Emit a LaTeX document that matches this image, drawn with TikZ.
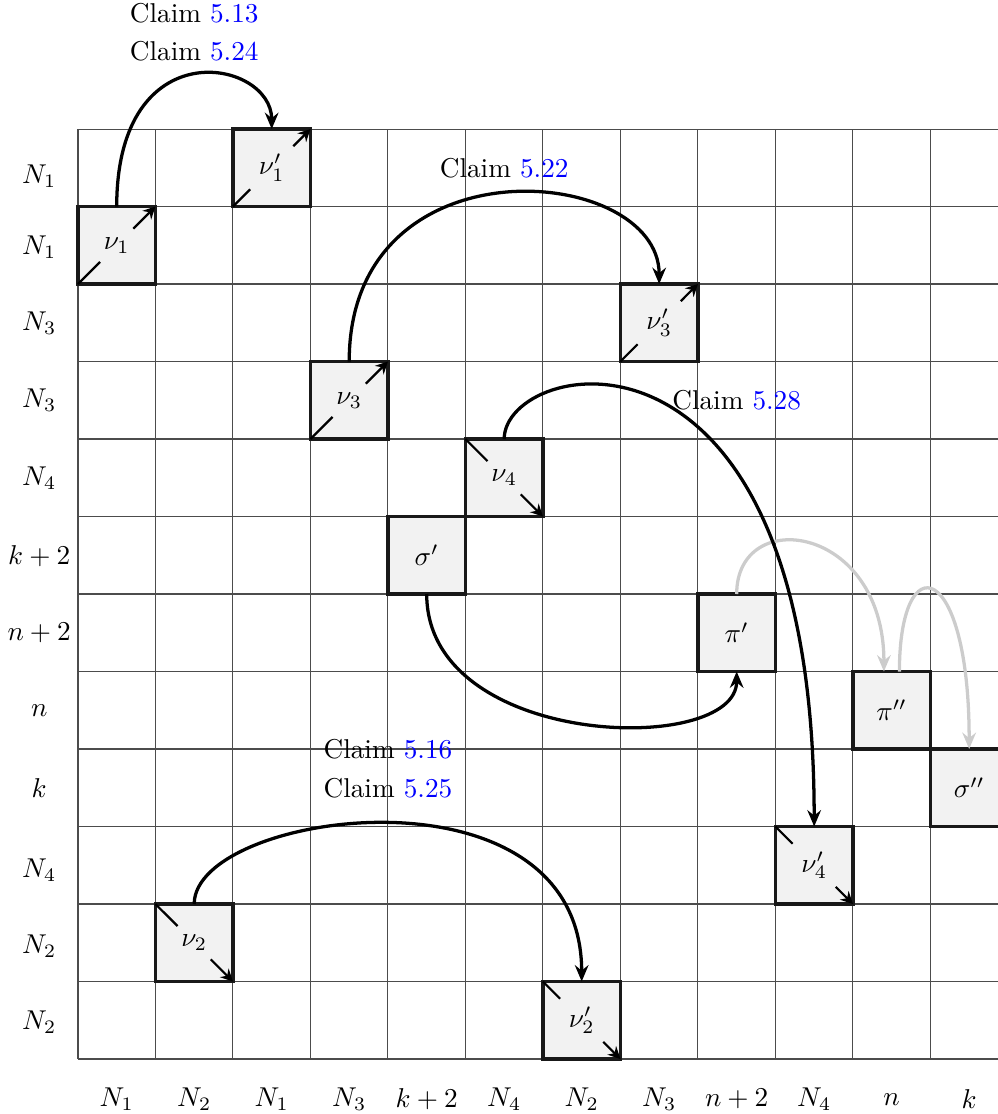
\documentclass[tikz,border=0pt]{standalone}
\usetikzlibrary{arrows.meta}
\tikzset{
  gridline/.style={draw=black!70, line width=0.4pt},
  cellbox/.style={draw=black!90, line width=1.4pt, fill=gray!10, minimum size=1cm, inner sep=0pt, outer sep=0pt},
  celllabel/.style={inner sep=3pt},
  diagline/.style={thick},
  diag/.style={thick, -{Stealth[length=4.5pt,width=4.5pt,inset=1.5pt]}},
  claimarrow/.style={line width=1.2pt, -{Stealth[length=6pt,width=5pt,inset=2pt]}},
  grayarrow/.style={claimarrow, draw=black!20},
  claim/.style={inner sep=1pt},
  axislabel/.style={inner sep=1pt}
}
\begin{document}
\begin{tikzpicture}
\useasboundingbox (-1.006,1.665) rectangle (11.871,-12.710);
\clip (-1.006,1.665) rectangle (11.871,-12.710);
% grid
\draw[gridline] (0,-12) grid (12,0);
% row labels
\node[axislabel] (r1) at (-0.5,-0.61) {$N_1$};
\node[axislabel] (r2) at (-0.5,-1.52) {$N_1$};
\node[axislabel] (r3) at (-0.5,-2.5) {$N_3$};
\node[axislabel] (r4) at (-0.5,-3.5) {$N_3$};
\node[axislabel] (r5) at (-0.5,-4.5) {$N_4$};
\node[axislabel] (r6) at (-0.5,-5.51) {$k+2$};
\node[axislabel] (r7) at (-0.5,-6.5) {$n+2$};
\node[axislabel] (r8) at (-0.5,-7.5) {$n$};
\node[axislabel] (r9) at (-0.5,-8.51) {$k$};
\node[axislabel] (r10) at (-0.5,-9.56) {$N_4$};
\node[axislabel] (r11) at (-0.5,-10.54) {$N_2$};
\node[axislabel] (r12) at (-0.5,-11.53) {$N_2$};
% column labels
\node[axislabel] (c1) at (0.5,-12.52) {$N_1$};
\node[axislabel] (c2) at (1.5,-12.52) {$N_2$};
\node[axislabel] (c3) at (2.5,-12.52) {$N_1$};
\node[axislabel] (c4) at (3.5,-12.52) {$N_3$};
\node[axislabel] (c5) at (4.5,-12.52) {$k+2$};
\node[axislabel] (c6) at (5.5,-12.52) {$N_4$};
\node[axislabel] (c7) at (6.5,-12.52) {$N_2$};
\node[axislabel] (c8) at (7.5,-12.52) {$N_3$};
\node[axislabel] (c9) at (8.5,-12.52) {$n+2$};
\node[axislabel] (c10) at (9.5,-12.52) {$N_4$};
\node[axislabel] (c11) at (10.5,-12.52) {$n$};
\node[axislabel] (c12) at (11.5,-12.52) {$k$};
% cells
\node[cellbox] (nu1) at (0.5,-1.5) {};
\node[cellbox] (nu1p) at (2.5,-0.5) {};
\node[cellbox] (nu3) at (3.5,-3.5) {};
\node[cellbox] (nu3p) at (7.5,-2.5) {};
\node[cellbox] (nu4) at (5.5,-4.5) {};
\node[cellbox] (sigp) at (4.5,-5.5) {$\sigma'$};
\node[cellbox] (pip) at (8.5,-6.5) {$\pi'$};
\node[cellbox] (pipp) at (10.5,-7.5) {$\pi''$};
\node[cellbox] (sigpp) at (11.5,-8.5) {$\sigma''$};
\node[cellbox] (nu4p) at (9.5,-9.5) {};
\node[cellbox] (nu2) at (1.5,-10.5) {};
\node[cellbox] (nu2p) at (6.5,-11.5) {};
% cell labels and diagonals
\node[celllabel] (nu1l) at (nu1.center) {$\nu_1$};
\draw[diagline] (nu1.south west) -- (nu1l);
\draw[diag] (nu1l) -- (nu1.north east);
\node[celllabel] (nu1pl) at (nu1p.center) {$\nu'_1$};
\draw[diagline] (nu1p.south west) -- (nu1pl);
\draw[diag] (nu1pl) -- (nu1p.north east);
\node[celllabel] (nu3l) at (nu3.center) {$\nu_3$};
\draw[diagline] (nu3.south west) -- (nu3l);
\draw[diag] (nu3l) -- (nu3.north east);
\node[celllabel] (nu3pl) at (nu3p.center) {$\nu'_3$};
\draw[diagline] (nu3p.south west) -- (nu3pl);
\draw[diag] (nu3pl) -- (nu3p.north east);
\node[celllabel] (nu4l) at (nu4.center) {$\nu_4$};
\draw[diagline] (nu4.north west) -- (nu4l);
\draw[diag] (nu4l) -- (nu4.south east);
\node[celllabel] (nu4pl) at (nu4p.center) {$\nu'_4$};
\draw[diagline] (nu4p.north west) -- (nu4pl);
\draw[diag] (nu4pl) -- (nu4p.south east);
\node[celllabel] (nu2l) at (nu2.center) {$\nu_2$};
\draw[diagline] (nu2.north west) -- (nu2l);
\draw[diag] (nu2l) -- (nu2.south east);
\node[celllabel] (nu2pl) at (nu2p.center) {$\nu'_2$};
\draw[diagline] (nu2p.north west) -- (nu2pl);
\draw[diag] (nu2pl) -- (nu2p.south east);
% gray arrows
\draw[grayarrow] (pip.north) .. controls +(0,1.15) and +(0,1.9) .. ([xshift=-1mm]pipp.north);
\draw[grayarrow] ([xshift=1mm]pipp.north) .. controls +(0,1.65) and +(0,2.45) .. (sigpp.north);
% claim arrows
\draw[claimarrow] (nu1.north) .. controls +(0,2.3) and +(0,0.9) .. (nu1p.north);
\draw[claimarrow] (nu3.north) .. controls +(0,2.9) and +(0,1.55) .. (nu3p.north);
\draw[claimarrow] (nu4.north) .. controls +(0,1.05) and +(0,6.9) .. (nu4p.north);
\draw[claimarrow] (sigp.south) .. controls +(0,-2) and +(0,-1.1) .. (pip.south);
\draw[claimarrow] (nu2.north) .. controls +(0,1.2) and +(0,2.9) .. (nu2p.north);
% claim labels
\node[claim] (cl513) at (1.5,1.5) {Claim \textcolor{blue}{5.13}};
\node[claim] (cl524) at (1.5,1.0) {Claim \textcolor{blue}{5.24}};
\node[claim] (cl522) at (5.5,-0.5) {Claim \textcolor{blue}{5.22}};
\node[claim] (cl528) at (8.5,-3.5) {Claim \textcolor{blue}{5.28}};
\node[claim] (cl516) at (4.0,-8.0) {Claim \textcolor{blue}{5.16}};
\node[claim] (cl525) at (4.0,-8.5) {Claim \textcolor{blue}{5.25}};
\end{tikzpicture}
\end{document}
